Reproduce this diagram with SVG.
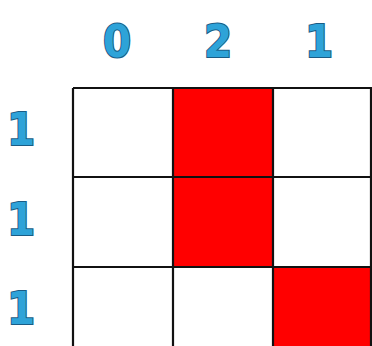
<svg xmlns="http://www.w3.org/2000/svg" width="372" height="346" viewBox="0 0 372 346">
<style>
.lbl{font-family:"DejaVu Sans Condensed","DejaVu Sans","Liberation Sans",sans-serif;font-stretch:condensed;font-weight:bold;font-size:45px;fill:#2ea3d8;stroke:#1a5c85;stroke-width:2;paint-order:stroke;text-anchor:middle}
.r{fill:#ff0000}
.grid{stroke:#111;stroke-width:2.2;fill:none}
</style>
<rect width="372" height="346" fill="#ffffff"/>
<g id="col-labels">
<text class="lbl" x="117" y="57">0</text>
<text class="lbl" x="218" y="57">2</text>
<text class="lbl" x="319" y="57">1</text>
</g>
<g id="row-labels">
<text class="lbl" x="21" y="145">1</text>
<text class="lbl" x="21" y="235">1</text>
<text class="lbl" x="21" y="324">1</text>
</g>
<g id="cells">
<rect class="r" x="173" y="88" width="100" height="89"/>
<rect class="r" x="173" y="177" width="100" height="90"/>
<rect class="r" x="273" y="267" width="100" height="90"/>
</g>
<g id="grid">
<path class="grid" d="M73,88 H373 M73,177 H373 M73,267 H373 M73,88 V346 M173,88 V346 M273,88 V346 M371,88 V346"/>
</g>
</svg>
